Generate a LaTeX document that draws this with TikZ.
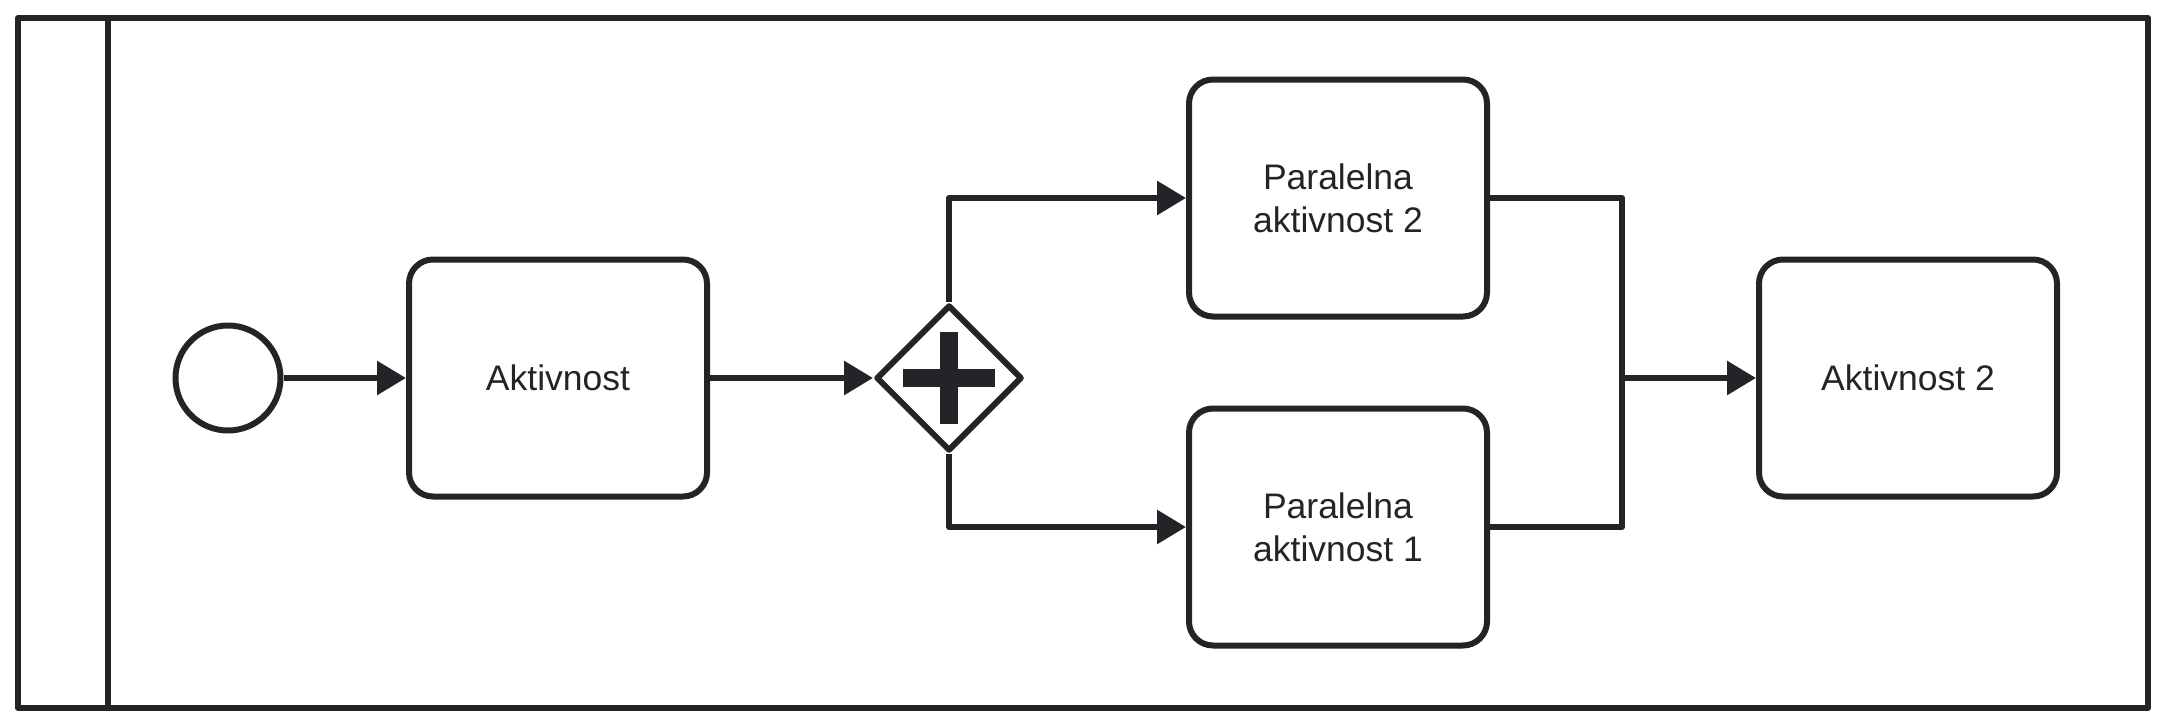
\documentclass[tikz,border=0pt]{standalone}
\usepackage{fontspec}
\setmainfont{Liberation Sans}
\usetikzlibrary{arrows.meta,shapes.geometric}
\definecolor{ink}{RGB}{35,36,40}
\begin{document}
\begin{tikzpicture}[x=1pt,y=-1pt,
  line width=6pt, color=ink, line join=round,
  task/.style={draw=ink, rounded corners=24pt, minimum width=298pt, minimum height=237pt,
    align=center, inner sep=0pt, font=\fontsize{35.5}{43}\selectfont, text=ink},
  flow/.style={-{Triangle[length=29pt,width=33pt]}},
  ]
\useasboundingbox (0,0) rectangle (2166,726);
% pool and lane divider
\node[draw=ink, minimum width=2130pt, minimum height=690pt, inner sep=0pt, outer sep=0pt] (pool) at (1083,363) {};
\draw (108,18) -- (108,708);
% nodes
\node[circle, draw=ink, minimum size=105pt, inner sep=0pt] (start) at (228,378) {};
\node[task] (a1) at (558,378) {Aktivnost};
\node[diamond, draw=ink, aspect=1, minimum size=146pt, inner sep=0pt] (gw) at (949,378) {};
\fill[ink] (gw.center) ++(-46,-9) rectangle ++(92,18);
\fill[ink] (gw.center) ++(-9,-46) rectangle ++(18,92);
\node[task] (p2) at (1338,198) {Paralelna\\aktivnost 2};
\node[task] (p1) at (1338,527) {Paralelna\\aktivnost 1};
\node[task] (a2) at (1908,378) {Aktivnost 2};
\coordinate (m) at (1622,378);
% connectors
\draw[flow] (start) -- (a1);
\draw[flow] (a1) -- (gw);
\draw[flow] (gw.north) |- (p2.west);
\draw[flow] (gw.south) |- (p1.west);
\draw (p2.east) -| (m);
\draw (p1.east) -| (m);
\draw[flow] (m) -- (a2);
\end{tikzpicture}
\end{document}
